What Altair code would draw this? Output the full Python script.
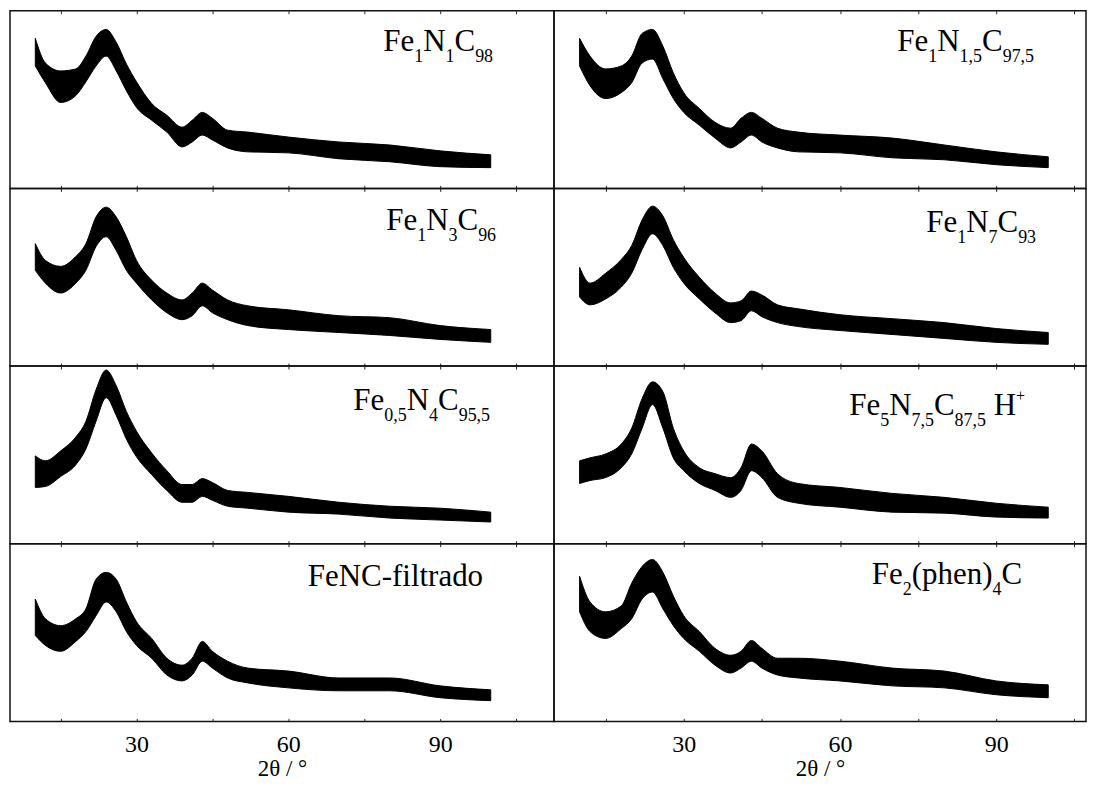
import altair as alt
import pandas as pd

# ---------------- data ----------------
TWO_THETA = [10, 12, 15, 18, 20, 22, 24, 26, 28, 30, 33, 36, 39, 41, 43, 45, 48, 52, 60, 70, 80, 90, 100]

# upper / lower edge of each noisy trace (arbitrary intensity units, panel = 0..180)
P1_HI = [152, 127, 119, 121, 134, 154, 161, 148, 126, 108, 86, 74, 62, 69, 77, 71, 59, 57, 52, 47, 44, 38, 34]
P1_LO = [124, 107, 87, 94, 108, 124, 134, 119, 99, 82, 69, 57, 42, 47, 54, 49, 41, 37, 36, 30, 27, 22, 21]

P2_HI = [152, 134, 121, 124, 134, 157, 161, 144, 117, 97, 81, 67, 61, 71, 77, 71, 61, 57, 54, 51, 44, 37, 32]
P2_LO = [124, 104, 91, 97, 107, 127, 131, 111, 91, 77, 64, 51, 41, 47, 54, 47, 41, 37, 36, 31, 29, 24, 21]

P3_HI = [124, 107, 101, 111, 124, 151, 161, 151, 131, 107, 87, 74, 67, 74, 84, 77, 67, 61, 57, 51, 49, 41, 37]
P3_LO = [97, 84, 74, 84, 97, 121, 131, 117, 97, 84, 67, 54, 47, 51, 61, 54, 47, 41, 37, 34, 31, 27, 24]

P4_HI = [100, 84, 94, 108, 122, 148, 162, 152, 128, 110, 90, 74, 64, 66, 76, 72, 62, 58, 52, 48, 44, 38, 34]
P4_LO = [70, 62, 68, 80, 94, 118, 134, 122, 100, 84, 68, 54, 44, 46, 56, 50, 44, 40, 36, 32, 28, 24, 22]

P5_HI = [89, 84, 94, 108, 124, 156, 176, 160, 134, 114, 92, 74, 60, 60, 66, 62, 54, 52, 48, 42, 38, 36, 32]
P5_LO = [57, 58, 68, 80, 96, 124, 148, 130, 106, 88, 70, 54, 42, 42, 48, 44, 38, 36, 32, 30, 26, 24, 22]

P6_HI = [84, 87, 91, 101, 117, 147, 164, 154, 117, 94, 77, 71, 67, 77, 101, 94, 71, 61, 57, 51, 47, 41, 37]
P6_LO = [61, 64, 67, 77, 91, 117, 141, 117, 87, 74, 61, 54, 47, 54, 74, 67, 47, 41, 37, 32, 31, 27, 26]

P7_HI = [124, 104, 97, 104, 114, 144, 151, 144, 121, 101, 84, 64, 57, 64, 81, 71, 61, 54, 51, 44, 44, 36, 32]
P7_LO = [87, 77, 71, 81, 91, 107, 121, 111, 91, 77, 64, 47, 41, 47, 61, 54, 44, 39, 34, 31, 31, 24, 21]

P8_HI = [147, 121, 111, 117, 140, 157, 164, 151, 127, 107, 91, 74, 67, 71, 82, 74, 64, 64, 61, 54, 51, 41, 37]
P8_LO = [111, 91, 84, 94, 104, 124, 131, 114, 97, 84, 71, 57, 49, 54, 61, 54, 47, 44, 41, 36, 34, 27, 24]

# sample labels: (text, kind) kind n = normal, b = subscript, p = superscript, g = blank gap
LABEL_1 = [("Fe", "n"), ("1", "b"), ("N", "n"), ("1", "b"), ("C", "n"), ("98", "b")]
LABEL_2 = [("Fe", "n"), ("1", "b"), ("N", "n"), ("1,5", "b"), ("C", "n"), ("97,5", "b")]
LABEL_3 = [("Fe", "n"), ("1", "b"), ("N", "n"), ("3", "b"), ("C", "n"), ("96", "b")]
LABEL_4 = [("Fe", "n"), ("1", "b"), ("N", "n"), ("7", "b"), ("C", "n"), ("93", "b")]
LABEL_5 = [("Fe", "n"), ("0,5", "b"), ("N", "n"), ("4", "b"), ("C", "n"), ("95,5", "b")]
LABEL_6 = [("Fe", "n"), ("5", "b"), ("N", "n"), ("7,5", "b"), ("C", "n"), ("87,5", "b"), (" ", "g"), ("H", "n"), ("+", "p")]
LABEL_7 = [("FeNC-filtrado", "n")]
LABEL_8 = [("Fe", "n"), ("2", "b"), ("(phen)", "n"), ("4", "b"), ("C", "n")]

X_TICKS = [15, 30, 45, 60, 75, 90, 105]
Y_TICKS = list(range(0, 181, 10))
X_TITLE = "2θ / °"

# ---------------- styling ----------------
FONT = "Liberation Serif"
MAIN_SIZE = 31
SUB_SIZE = 18
SUP_SIZE = 16
LEFT_W, RIGHT_W, PANEL_H = 545, 533, 178
LEFT_DOMAIN = [5, 112.5]
RIGHT_DOMAIN = [5.08, 107.25]

# Times-compatible advance widths (em)
ADV = {"F": .556, "e": .444, "N": .722, "C": .667, "H": .722, " ": .25, ",": .25,
       "(": .333, ")": .333, "p": .5, "h": .5, "n": .5, "-": .333, "f": .333, "i": .278,
       "l": .278, "t": .278, "r": .333, "a": .444, "d": .5, "o": .5, "+": .564}
for d in "0123456789":
    ADV[d] = .5


def size_of(kind):
    return {"n": MAIN_SIZE, "g": MAIN_SIZE, "b": SUB_SIZE, "p": SUP_SIZE}[kind]


def text_width(s, size):
    return sum(ADV.get(c, .5) for c in s) * size


def label_layers(pieces, right, baseline):
    total = sum(text_width(t, size_of(k)) for t, k in pieces)
    x = right - total
    layers = []
    for t, k in pieces:
        if k != "g":
            dy = {"n": 0, "b": 11, "p": -14}[k]
            layers.append(
                alt.Chart(alt.Data(values=[{"t": t}]))
                .mark_text(font=FONT, fontSize=size_of(k), align="left", baseline="alphabetic", color="black")
                .encode(x=alt.value(x), y=alt.value(baseline + dy), text="t:N")
            )
        x += text_width(t, size_of(k))
    return layers


def quiet_axis(orient):
    return alt.Axis(values=X_TICKS if orient in ("top", "bottom") else Y_TICKS, orient=orient,
                    tickSize=3, offset=-3, domain=False, grid=False, labels=False, title=None,
                    tickColor="#222", minExtent=0, maxExtent=0)


def panel(hi, lo, label, right, baseline, width, domain, bottom):
    df = pd.DataFrame({"tt": TWO_THETA, "hi": hi, "lo": lo})
    xscale = alt.Scale(domain=domain, nice=False, zero=False)
    yscale = alt.Scale(domain=[0, 180], nice=False, zero=False)
    if bottom:
        xaxis = alt.Axis(values=X_TICKS, orient="bottom", tickSize=3, offset=-3, domain=False, grid=False,
                         labelExpr="datum.value % 30 === 0 ? datum.label : ''", labelPadding=11,
                         labelFont=FONT, labelFontSize=24, labelColor="black",
                         title=X_TITLE, titleFont=FONT, titleFontSize=23, titleFontWeight="normal",
                         titleColor="black", titlePadding=1, tickColor="#222")
    else:
        xaxis = quiet_axis("bottom")
    area = alt.Chart(df).mark_area(fill="black", stroke="black", strokeWidth=1, interpolate="monotone").encode(
        x=alt.X("tt:Q", scale=xscale, axis=xaxis),
        y=alt.Y("hi:Q", scale=yscale, axis=quiet_axis("left")),
        y2="lo:Q",
    )
    top = alt.Chart(df).mark_point(opacity=0, size=1).encode(
        x=alt.X("tt:Q", scale=xscale, axis=quiet_axis("top")),
        y=alt.Y("hi:Q", scale=yscale, axis=None),
    )
    layers = [area, top] + label_layers(label, right, baseline)
    return alt.layer(*layers).resolve_axis(x="independent").properties(width=width, height=PANEL_H)


panels = [
    panel(P1_HI, P1_LO, LABEL_1, 484, 40, LEFT_W, LEFT_DOMAIN, False),
    panel(P2_HI, P2_LO, LABEL_2, 481, 40, RIGHT_W, RIGHT_DOMAIN, False),
    panel(P3_HI, P3_LO, LABEL_3, 487, 42, LEFT_W, LEFT_DOMAIN, False),
    panel(P4_HI, P4_LO, LABEL_4, 483, 44, RIGHT_W, RIGHT_DOMAIN, False),
    panel(P5_HI, P5_LO, LABEL_5, 481, 44, LEFT_W, LEFT_DOMAIN, False),
    panel(P6_HI, P6_LO, LABEL_6, 472, 49, RIGHT_W, RIGHT_DOMAIN, False),
    panel(P7_HI, P7_LO, LABEL_7, 474, 42, LEFT_W, LEFT_DOMAIN, True),
    panel(P8_HI, P8_LO, LABEL_8, 469, 40, RIGHT_W, RIGHT_DOMAIN, True),
]

chart = alt.concat(
    *panels, columns=2, spacing=0, bounds="flush"
).properties(
    padding={"left": 1, "top": 0, "right": 0, "bottom": 0},
    background="white",
).configure_view(
    stroke="#111", strokeWidth=1.5
).configure_axis(
    labelFont=FONT, titleFont=FONT
)

chart.save("out.html", embed_options={"renderer": "svg", "actions": False})
